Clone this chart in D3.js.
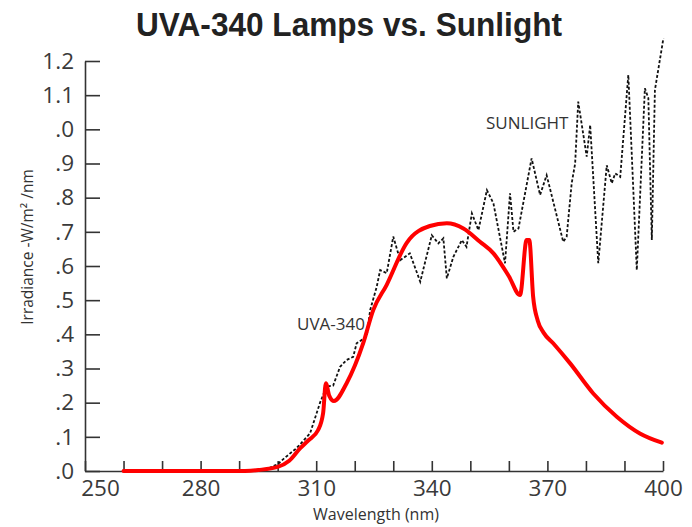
<!DOCTYPE html>
<html>
  <head>
    <title>UVA-340 Lamps vs. Sunlight</title>
    <style>
    body {
        margin: 0px;
        overflow: hidden;
        background: #fff;
    }

    text {
        font-family: "Open Sans", sans-serif;
        fill: #333;
    }

    .tick text {
        font-size: 22.5px;
        fill: #3a3a3a;
    }

    .tick line, .domain {
        stroke: #333;
        stroke-width: 1.6;
    }
    </style>
    <script src="https://d3js.org/d3.v7.min.js"></script>
  </head>
  <body>

    <svg width="692" height="527"></svg>

    <script>
        // UVA-340 lamp spectrum (wavelength nm / irradiance W/m2/nm)
        const uvaNm  = [260, 270, 280, 290, 293, 295, 300, 303, 305.8, 308, 310.5, 311.8, 312.5, 313.4, 314.6, 317.9,
                        322.2, 324.8, 328.3, 333.5, 339.5, 343.9, 348.2, 352.5, 356, 360, 362.9, 364.6, 365.3, 366.3,
                        367.5, 369, 371.5, 375.9, 381.9, 388, 394, 399.7];
        const uvaVal = [0, 0, 0, 0, 0.001, 0.003, 0.012, 0.03, 0.066, 0.09, 0.12, 0.17, 0.257, 0.22, 0.205, 0.257,
                        0.374, 0.471, 0.545, 0.668, 0.717, 0.725, 0.71, 0.671, 0.637, 0.57, 0.515, 0.676, 0.676, 0.51,
                        0.44, 0.405, 0.374, 0.315, 0.227, 0.159, 0.11, 0.083];

        // sunlight spectrum
        const sunNm  = [294, 297, 300, 302, 304.9, 308.4, 311, 312.7, 314.4, 316.2, 317.9, 319.6, 320.5, 323.1, 324,
                        325.7, 326.6, 328.3, 330, 331.8, 334.3, 337, 340, 341.7, 343, 343.9, 345.6, 347.8, 349,
                        350.4, 352.1, 354.3, 356, 359, 360.3, 361.2, 362.5, 365.9, 368.1, 369.8, 374.1, 375, 376.3,
                        377.2, 378, 380.2, 381.1, 383.2, 385.4, 386.7, 387.6, 388.9, 391, 393.2, 395.3, 396.2, 397.1,
                        397.9, 400.1];
        const sunVal = [0, 0.005, 0.02, 0.04, 0.067, 0.11, 0.2, 0.247, 0.25, 0.305, 0.325, 0.334, 0.374, 0.393, 0.471,
                        0.539, 0.588, 0.579, 0.686, 0.617, 0.637, 0.554, 0.69, 0.666, 0.681, 0.564, 0.627, 0.676, 0.656,
                        0.754, 0.705, 0.822, 0.783, 0.608, 0.813, 0.70, 0.71, 0.915, 0.808, 0.866, 0.671, 0.686, 0.842,
                        0.9, 1.081, 0.92, 1.013, 0.608, 0.895, 0.842, 0.871, 0.861, 1.159, 0.588, 1.12, 1.091, 0.676,
                        1.115, 1.266];

        // axis ticks
        const xTicks = d3.range(250, 401, 10);
        const xTickLabels = [250, 280, 310, 340, 370, 400];
        const yTicks = [1.2, 1.1, 1.0, 0.9, 0.8, 0.7, 0.6, 0.5, 0.4, 0.3, 0.2, 0.1, 0];
        const yTickLabels = ["1.2", "1.1", ".0", ".9", ".8", ".7", ".6", ".5", ".4", ".3", ".2", ".1", ".0"];

        const svg = d3.select('svg');

        const xScale = d3.scaleLinear().domain([250, 400]).range([85, 663]);
        const yScale = d3.scaleLinear().domain([0, 1.2]).range([471, 61]);

        // title
        svg.append('text')
            .attr('x', 349)
            .attr('y', 36)
            .attr('text-anchor', 'middle')
            .attr('textLength', 426)
            .attr('lengthAdjust', 'spacingAndGlyphs')
            .style('font-family', '"Liberation Sans", Arial, sans-serif')
            .style('font-weight', 'bold')
            .style('font-size', '33px')
            .style('fill', '#222')
            .text('UVA-340 Lamps vs. Sunlight');

        // y axis (ticks pointing inward)
        const yAxis = d3.axisLeft(yScale)
            .tickValues(yTicks)
            .tickFormat((d, i) => yTickLabels[i])
            .tickSizeInner(-15)
            .tickSizeOuter(0)
            .tickPadding(11);
        svg.append('g')
            .attr('transform', `translate(${xScale(250)},0)`)
            .call(yAxis);

        // x axis
        const xAxis = d3.axisBottom(xScale)
            .tickValues(xTicks)
            .tickFormat(d => xTickLabels.includes(d) ? d : '')
            .tickSizeInner(-10)
            .tickSizeOuter(0)
            .tickPadding(9);
        const xAxisG = svg.append('g')
            .attr('transform', `translate(0,${yScale(0)})`)
            .call(xAxis);
        // the 250 label sits right of the corner in the original
        xAxisG.selectAll('.tick text')
            .filter(d => d === 250)
            .attr('dx', 15);

        // axis titles
        svg.append('text')
            .attr('x', 376)
            .attr('y', 520)
            .attr('text-anchor', 'middle')
            .style('font-size', '16px')
            .text('Wavelength (nm)');

        svg.append('text')
            .attr('transform', 'translate(33,247) rotate(-90)')
            .attr('text-anchor', 'middle')
            .style('font-size', '15.5px')
            .text('Irradiance -W/m² /nm');

        // lines
        const sunData = sunNm.map((d, i) => ({nm: d, v: sunVal[i]}));
        const uvaData = uvaNm.map((d, i) => ({nm: d, v: uvaVal[i]}));

        const line = d3.line()
            .x(d => xScale(d.nm))
            .y(d => yScale(d.v));

        svg.append('path')
            .datum(sunData)
            .attr('d', line)
            .attr('fill', 'none')
            .attr('stroke', '#111')
            .attr('stroke-width', 1.8)
            .attr('stroke-dasharray', '3,2');

        svg.append('path')
            .datum(uvaData)
            .attr('d', line.curve(d3.curveMonotoneX))
            .attr('fill', 'none')
            .attr('stroke', '#ff0000')
            .attr('stroke-width', 4)
            .attr('stroke-linejoin', 'round')
            .attr('stroke-linecap', 'round');

        // series labels
        svg.append('text')
            .attr('x', 297)
            .attr('y', 330)
            .style('font-size', '17px')
            .text('UVA-340');

        svg.append('text')
            .attr('x', 486)
            .attr('y', 129)
            .style('font-size', '17px')
            .text('SUNLIGHT');
    </script>
  </body>
</html>
